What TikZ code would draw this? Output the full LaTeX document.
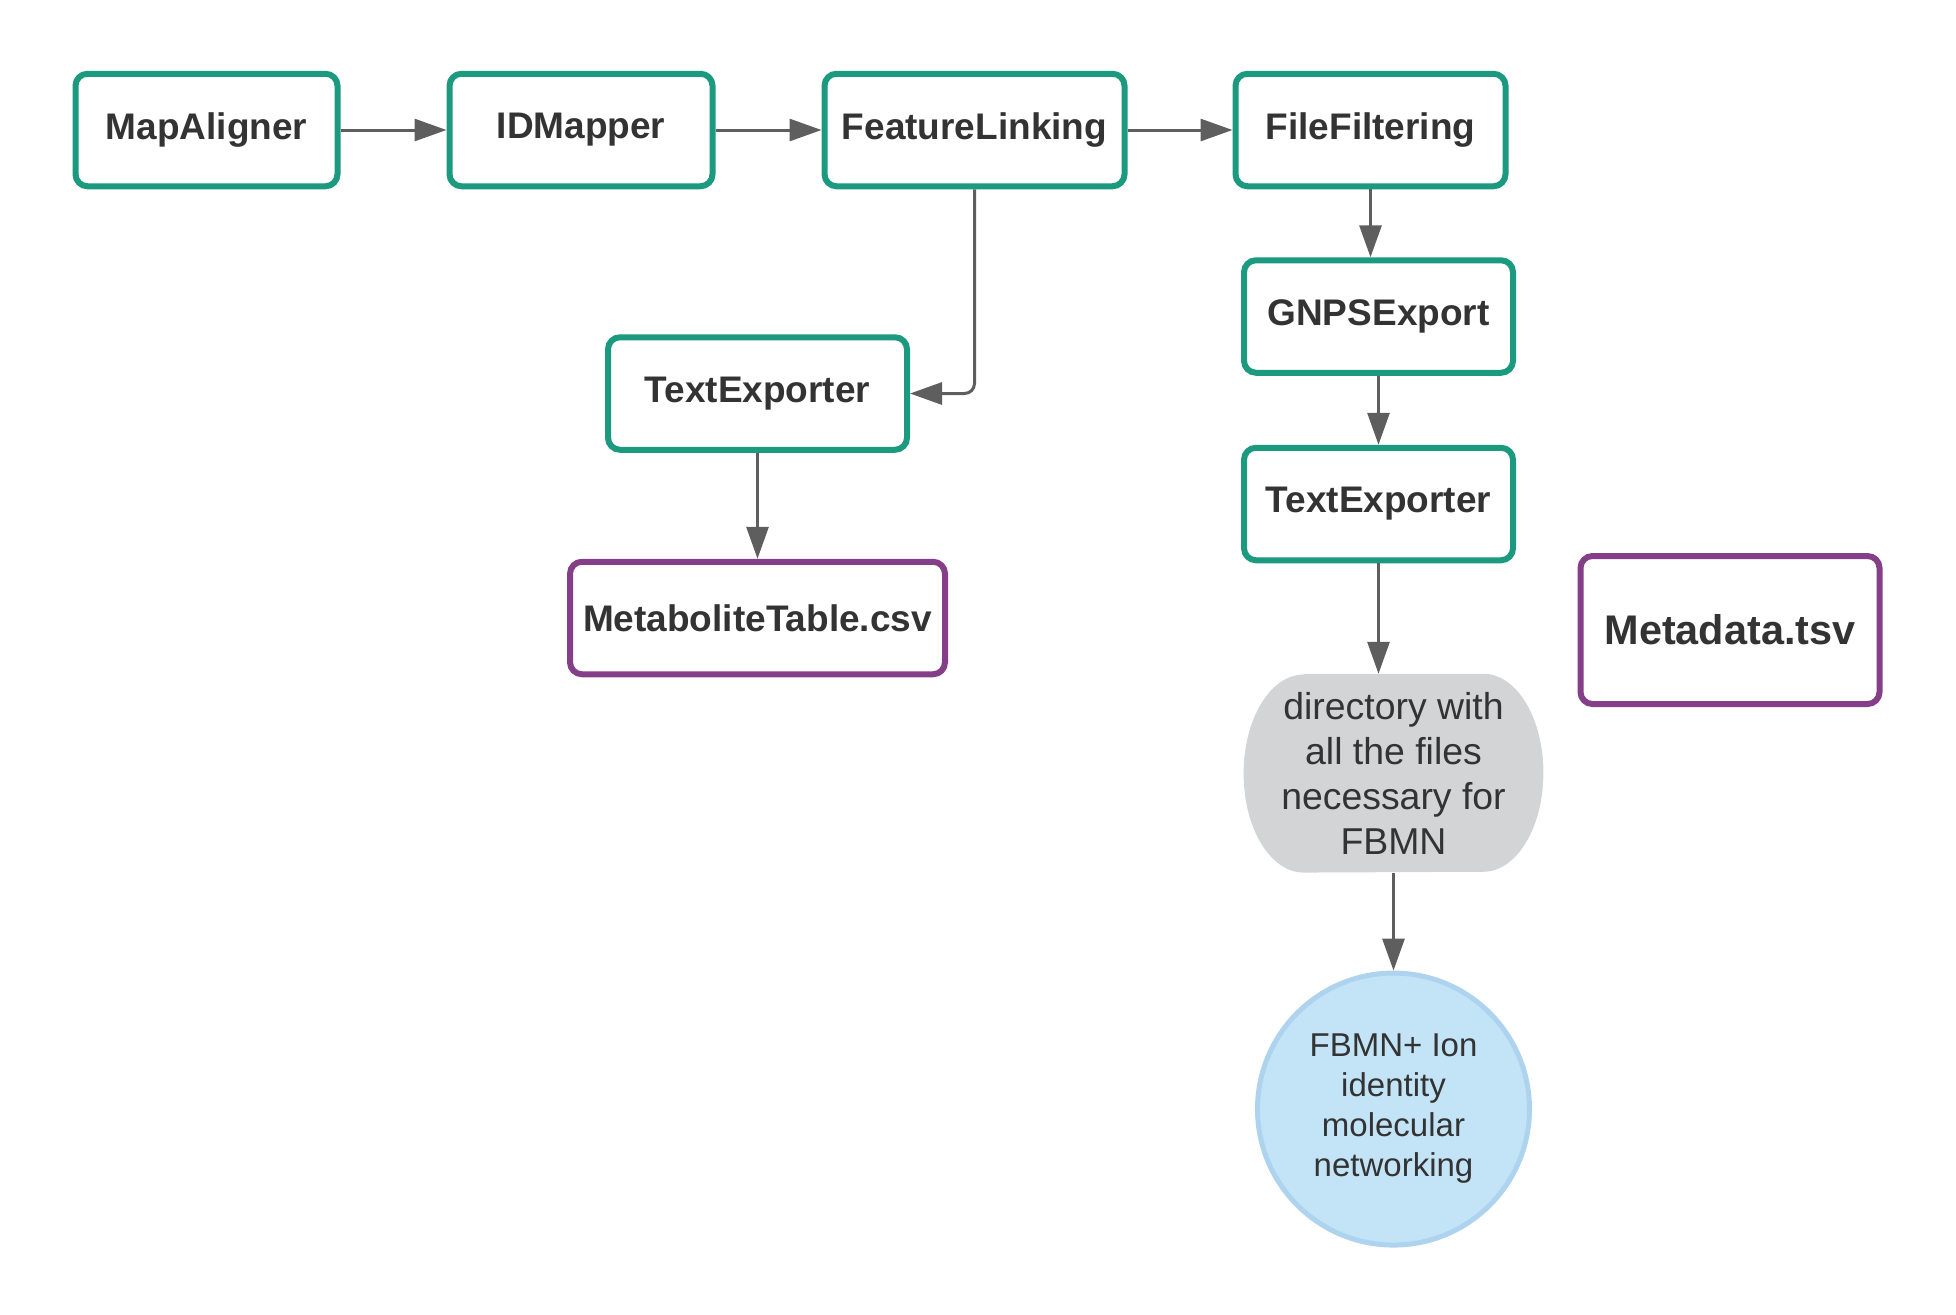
\documentclass[tikz,border=0pt]{standalone}
\usepackage{fontspec}
\setmainfont{Liberation Sans}
\usetikzlibrary{arrows.meta,positioning,backgrounds}
\definecolor{txtgray}{HTML}{333333}
\definecolor{argray}{HTML}{5E5E5E}
\definecolor{lgreen}{HTML}{1B9A7F}
\definecolor{lpurple}{HTML}{843F88}
\definecolor{dirgray}{HTML}{D3D4D6}
\definecolor{netfill}{HTML}{C3E4F7}
\definecolor{netblue}{HTML}{AED3EF}

\begin{document}
\begin{tikzpicture}[
  font=\fontsize{18.5}{22.5}\selectfont\bfseries,text=txtgray,
  >={Triangle[length=16pt,width=11pt]},
  tool/.style={draw=lgreen,line width=3pt,rounded corners=6pt,fill=white,align=center,minimum height=56.25pt},
  file/.style={tool,draw=lpurple},
  plain/.style={font=\fontsize{18.7}{22.5}\selectfont,align=center},
  net/.style={circle,draw=netblue,fill=netfill,line width=2.5pt,align=center,font=\fontsize{16.5}{20}\selectfont},
  ar/.style={->,draw=argray,line width=1.5pt}
]
\useasboundingbox (0,0) rectangle (978pt,-657pt);

% top row
\node[tool,minimum width=131pt] (mapal) at (103.25pt,-65pt) {MapAligner};
\node[tool,minimum width=131.5pt,right=53pt of mapal] (idmap) {IDMapper};
\node[tool,minimum width=150pt,right=53pt of idmap] (flink) {FeatureLinking};
\node[tool,minimum width=135pt,right=52.5pt of flink] (ffilt) {FileFiltering};

% GNPS branch
\node[tool,minimum width=134.5pt,below=34pt of ffilt,xshift=4pt] (gnps) {GNPSExport};
\node[tool,minimum width=134.5pt,below=34.5pt of gnps] (texpR) {TextExporter};
\node[plain,minimum width=149.5pt,minimum height=99pt,below=55.25pt of texpR,xshift=7.5pt] (fdir) {directory with\\all the files\\necessary for\\FBMN};
\node[net,minimum size=136pt,below=49pt of fdir] (fbmn) {FBMN+ Ion\\identity\\molecular\\networking};

% table branch
\node[tool,minimum width=149.5pt,below=72.5pt of flink,xshift=-108.5pt] (texpL) {TextExporter};
\node[file,minimum width=187.5pt,below=53pt of texpL] (mtab) {MetaboliteTable.csv};
\node[file,minimum width=149.5pt,minimum height=74pt,font=\fontsize{20.7}{24}\selectfont\bfseries] (meta) at (865pt,-315pt) {Metadata.tsv};

% stadium behind the directory text
\begin{scope}[on background layer]
  \fill[dirgray] ([xshift=30pt]fdir.north west) -- ([xshift=-30pt]fdir.north east)
    arc[start angle=90,end angle=-90,x radius=30pt,y radius=49.5pt]
    -- ([xshift=30pt]fdir.south west)
    arc[start angle=270,end angle=90,x radius=30pt,y radius=49.5pt] -- cycle;
\end{scope}

% arrows
\draw[ar] (mapal) -- (idmap);
\draw[ar] (idmap) -- (flink);
\draw[ar] (flink) -- (ffilt);
\draw[ar] (ffilt.south) -- (ffilt.south |- gnps.north);
\draw[ar] (gnps) -- (texpR);
\draw[ar] (texpR.south) -- (texpR.south |- fdir.north);
\draw[ar] (fdir) -- (fbmn);
\draw[ar,rounded corners=5pt] (flink.south) |- (texpL.east);
\draw[ar] (texpL) -- (mtab);
\end{tikzpicture}
\end{document}
